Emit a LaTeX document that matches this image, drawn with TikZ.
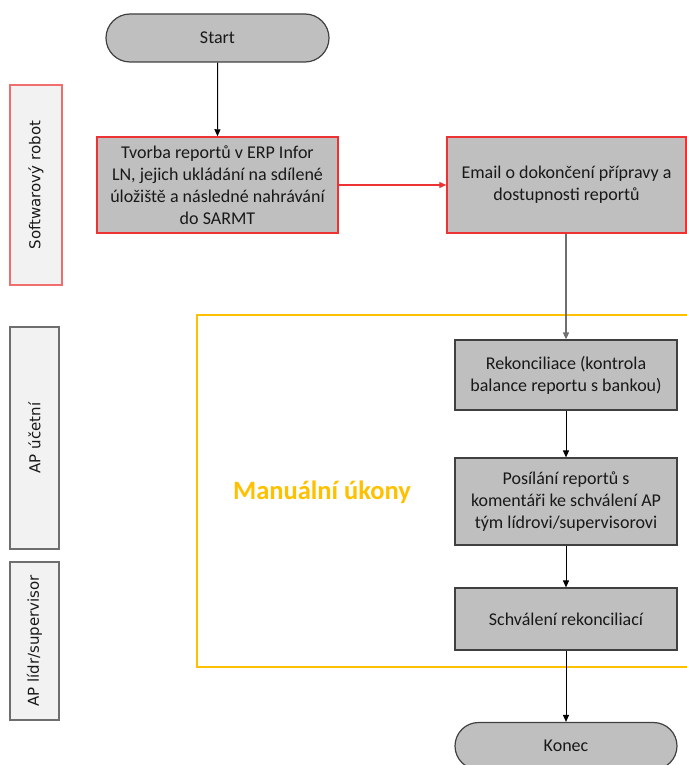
\documentclass[tikz,border=0pt]{standalone}
\usepackage{fontspec}
\setmainfont{Carlito}
\newfontfamily\lanefont{DejaVu Sans}
\usetikzlibrary{arrows.meta,shapes.misc}

\definecolor{boxgrey}{RGB}{191,191,191}
\definecolor{boxline}{RGB}{64,64,64}
\definecolor{robotred}{RGB}{236,50,50}
\definecolor{lanered}{RGB}{240,110,110}
\definecolor{lanefill}{RGB}{242,242,242}
\definecolor{laneline}{RGB}{110,110,110}
\definecolor{manualyellow}{RGB}{255,192,0}
\definecolor{textdark}{RGB}{25,25,25}
\definecolor{linkgrey}{RGB}{110,110,110}

\tikzset{
  process/.style={draw=boxline, fill=boxgrey, line width=1.2pt, text=textdark,
    font=\fontsize{18}{22}\selectfont, align=center, inner sep=0pt},
  robotbox/.style={process, draw=robotred, line width=1.5pt},
  terminal/.style={process, rounded rectangle},
  lane/.style={draw=laneline, fill=lanefill, line width=1.2pt, rotate=90,
    text=black!90, font=\lanefont\fontsize{15}{18}\selectfont, inner sep=0pt},
  flow/.style={line width=1pt, -{Triangle[length=7pt,width=6pt]}},
}

\begin{document}
\begin{tikzpicture}[x=1pt,y=-1pt]
\path[use as bounding box] (0,0) rectangle (687,765);
\clip (0,0) rectangle (687,765);

% swimlane labels
\node[lane, draw=lanered, minimum width=200pt, minimum height=52pt] (laneRobot) at (36,185) {Softwarový robot};
\node[lane, minimum width=222pt, minimum height=49pt] (laneUcetni) at (34.5,438) {AP účetní};
\node[lane, minimum width=158pt, minimum height=49pt] (laneLidr) at (34.5,641) {AP lídr/supervisor};

% frame around the manual steps
\draw[manualyellow, line width=2.2pt] (197,315) rectangle (720,667);
\node[text=manualyellow, font=\bfseries\fontsize{26.5}{30}\selectfont] (manual) at (322,492) {Manuální úkony};

% process steps
\node[terminal, minimum width=223pt, minimum height=48pt] (start) at (217.5,38) {Start};
\node[robotbox, minimum width=241pt, minimum height=96pt] (tvorba) at (217.5,185)
  {Tvorba reportů v ERP Infor\\LN, jejich ukládání na sdílené\\úložiště a následné nahrávání\\do SARMT};
\node[robotbox, minimum width=239pt, minimum height=96pt] (email) at (566.5,185)
  {Email o dokončení přípravy a\\dostupnosti reportů};
\node[process, minimum width=222pt, minimum height=70pt] (rekon) at (566,375)
  {Rekonciliace (kontrola\\balance reportu s bankou)};
\node[process, minimum width=222pt, minimum height=87pt] (posilani) at (566,501.5)
  {Posílání reportů s\\komentáři ke schválení AP\\tým lídrovi/supervisorovi};
\node[process, minimum width=222pt, minimum height=62pt] (schvaleni) at (566,619)
  {Schválení rekonciliací};
\node[terminal, minimum width=222pt, minimum height=47pt] (konec) at (566,746)
  {Konec};

% connectors
\draw[flow] (start) -- (tvorba);
\draw[flow, robotred, line width=1.3pt] (tvorba) -- (email);
\draw[flow, linkgrey, line width=1.3pt] (email.south -| rekon.north) -- (rekon.north);
\draw[flow] (rekon) -- (posilani);
\draw[flow] (posilani) -- (schvaleni);
\draw[flow] (schvaleni) -- (konec);
\end{tikzpicture}
\end{document}
